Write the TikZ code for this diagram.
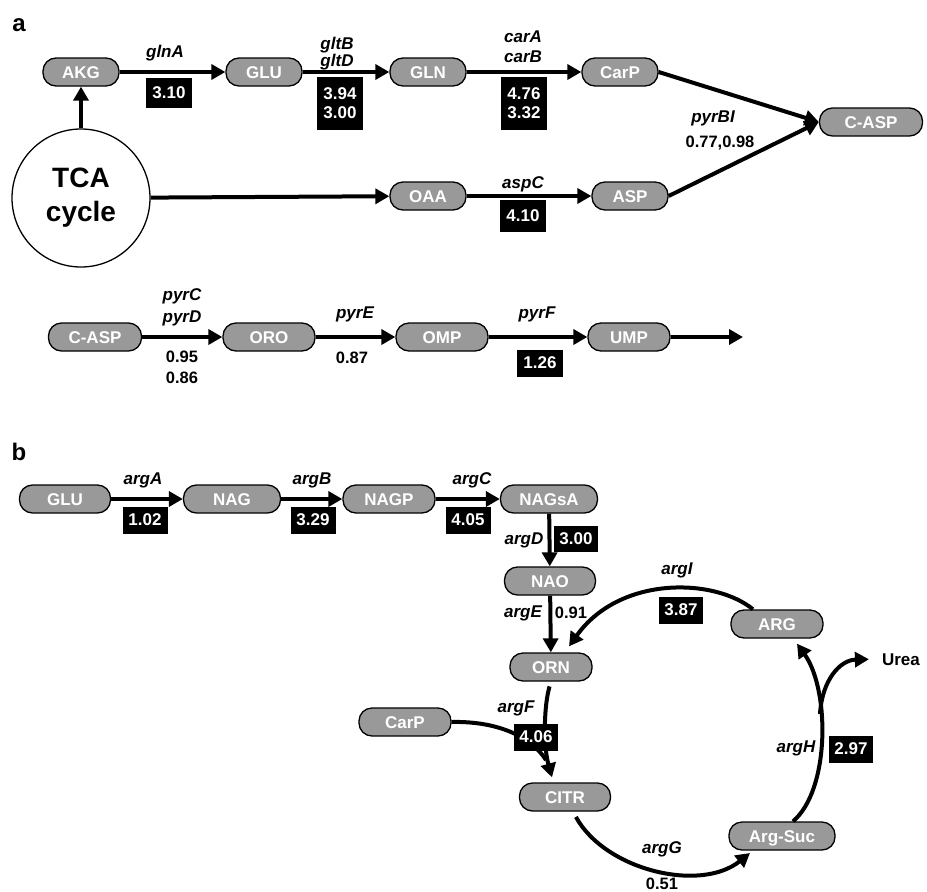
\documentclass[tikz,border=0pt]{standalone}
\usepackage{fontspec}
\setmainfont{Liberation Sans}
\usetikzlibrary{arrows.meta}
\definecolor{molgray}{RGB}{153,153,153}
\begin{document}
\begin{tikzpicture}[x=1pt,y=-1pt,
 mol/.style={draw=black, line width=1.3pt, fill=molgray, rounded corners=13pt, minimum height=28pt, text=white, font=\fontsize{17}{19}\selectfont\bfseries, text height=12.2pt, text depth=0pt, inner sep=0pt},
 numbox/.style={fill=black, text=white, font=\fontsize{17}{19}\selectfont\bfseries, inner sep=0pt, minimum width=45pt, minimum height=27pt, align=center},
 gene/.style={font=\fontsize{17}{19}\selectfont\bfseries\itshape, anchor=base, inner sep=0pt},
 num/.style={font=\fontsize{16.5}{19}\selectfont\bfseries, anchor=base, inner sep=0pt},
 panel/.style={font=\fontsize{24}{28}\selectfont\bfseries, inner sep=0pt},
 arr/.style={line width=4pt, -{Triangle[length=14pt,width=15pt]}},
 link/.style={line width=4pt},
]
\useasboundingbox (0,0) rectangle (927,892);
\node[panel] (lbla) at (19,25) {a};
\node[panel] (lblb) at (19,452) {b};

% ---------- part a, upper ----------
\node[mol, minimum width=76pt] (AKG) at (81,72) {AKG};
\node[mol, minimum width=76pt] (GLUa) at (264,72) {GLU};
\node[mol, minimum width=76pt] (GLN) at (428,72) {GLN};
\node[mol, minimum width=76pt] (CarPa) at (620,72) {CarP};
\node[mol, minimum width=103pt] (CASPa) at (871,122) {C-ASP};
\node[mol, minimum width=76pt] (OAA) at (428,196) {OAA};
\node[mol, minimum width=76pt] (ASP) at (630,196) {ASP};
\node[draw, circle, line width=1.3pt, minimum size=138pt, inner sep=0pt, align=center,
      font=\fontsize{28}{34}\selectfont\bfseries] (TCA) at (81,198) {TCA\\cycle};

\draw[arr] (TCA) -- (AKG);
\draw[arr] (AKG) -- (GLUa);
\draw[arr] (GLUa) -- (GLN);
\draw[arr] (GLN) -- (CarPa);
\draw[arr] (CarPa.east) -- (CASPa.west);
\draw[arr] (TCA) -- (OAA);
\draw[arr] (OAA) -- (ASP);
\draw[arr] (ASP.east) -- (CASPa.west);

% ---------- part a, lower ----------
\node[mol, minimum width=93pt] (CASPb) at (95,337) {C-ASP};
\node[mol, minimum width=92pt] (ORO) at (269,337) {ORO};
\node[mol, minimum width=92pt] (OMP) at (442,337) {OMP};
\node[mol, minimum width=82pt] (UMP) at (629,337) {UMP};
\coordinate (pyrEnd) at (743,337);

\draw[arr] (CASPb) -- (ORO);
\draw[arr] (ORO) -- (OMP);
\draw[arr] (OMP) -- (UMP);
\draw[arr] (UMP) -- (pyrEnd);

% ---------- part b ----------
\node[mol, minimum width=91pt] (GLUb) at (65,499) {GLU};
\node[mol, minimum width=97pt] (NAG) at (232,499) {NAG};
\node[mol, minimum width=92pt] (NAGP) at (389,499) {NAGP};
\node[mol, minimum width=97pt] (NAGsA) at (549,499) {NAGsA};
\node[mol, minimum width=91pt] (NAO) at (550,581) {NAO};
\node[mol, minimum width=82pt] (ORN) at (551,667) {ORN};
\node[mol, minimum width=92pt] (ARG) at (777,624) {ARG};
\node[mol, minimum width=92pt] (CarPb) at (405,722) {CarP};
\node[mol, minimum width=91pt] (CITR) at (565,797) {CITR};
\node[mol, minimum width=106pt] (ArgSuc) at (782,836) {Arg-Suc};
\node[font=\fontsize{17}{19}\selectfont\bfseries, anchor=base, inner sep=0pt] (Urea) at (901,665) {Urea};
\coordinate (merge) at (546,760);
\coordinate (br) at (820,714);

\draw[arr] (GLUb) -- (NAG);
\draw[arr] (NAG) -- (NAGP);
\draw[arr] (NAGP) -- (NAGsA);
\draw[arr] (NAGsA) -- (NAO);
\draw[arr] (NAO) -- (ORN);
\draw[arr] ([shift={(-24,0)}]ARG.north) .. controls (715,578) and (620,575) .. ([shift={(18,-6)}]ORN.north);
\draw[link] (CarPb.east) .. controls (495,721) and (530,735) .. (merge);
\draw[arr, shorten <=5pt] (ORN.south) .. controls (544,705) and (543,745) .. ([shift={(-13,-5)}]CITR.north);
\draw[arr, shorten <=6pt] ([shift={(8,0)}]CITR.south) .. controls (605,870) and (700,893) .. ([shift={(-32,17)}]ArgSuc.center);
\draw[arr] ([shift={(11,0)}]ArgSuc.north) .. controls (830,790) and (830,690) .. ([shift={(20,5)}]ARG.south);
\draw[arr] (br) .. controls (822,680) and (840,660) .. ([shift={(-13,0)}]Urea.west);

% ---------- labels, part a ----------
\node[gene] (gglnA) at (165,57) {glnA};
\node[gene] (ggltB) at (337,49) {gltB};
\node[gene] (ggltD) at (337,66) {gltD};
\node[gene] (gcarA) at (523,42) {carA};
\node[gene] (gcarB) at (523,62) {carB};
\node[gene] (gpyrBI) at (713,122) {pyrBI};
\node[num] (npyrBI) at (720,147) {0.77,0.98};
\node[gene] (gaspC) at (523,188) {aspC};
\node[numbox, minimum width=46pt, minimum height=30pt] (b310) at (169,93) {3.10};
\node[numbox, minimum width=46pt, minimum height=53pt] (b394) at (340,103) {3.94\\3.00};
\node[numbox, minimum width=46pt, minimum height=53pt] (b476) at (524,103) {4.76\\3.32};
\node[numbox, minimum width=46pt, minimum height=32pt] (b410) at (523,216) {4.10};

\node[gene] (gpyrC) at (182,300) {pyrC};
\node[gene] (gpyrD) at (182,322) {pyrD};
\node[num] (n095) at (182,362) {0.95};
\node[num] (n086) at (182,383) {0.86};
\node[gene] (gpyrE) at (355,318) {pyrE};
\node[num] (n087) at (352,363) {0.87};
\node[gene] (gpyrF) at (537,318) {pyrF};
\node[numbox, minimum width=46pt] (b126) at (540,363) {1.26};

% ---------- labels, part b ----------
\node[gene] (gargA) at (143,484) {argA};
\node[gene] (gargB) at (312,484) {argB};
\node[gene] (gargC) at (472,484) {argC};
\node[numbox] (b102) at (145,520) {1.02};
\node[numbox] (b329) at (313,520) {3.29};
\node[numbox] (b405) at (468,520) {4.05};
\node[gene] (gargD) at (524,544) {argD};
\node[numbox, minimum width=44pt, minimum height=26pt] (b300) at (576,539) {3.00};
\node[gene] (gargE) at (523,617) {argE};
\node[num] (n091) at (571,618) {0.91};
\node[gene] (gargI) at (677,574) {argI};
\node[numbox, minimum width=44pt] (b387) at (681,610) {3.87};
\node[gene] (gargF) at (516,712) {argF};
\node[numbox, minimum width=44pt] (b406) at (536,737) {4.06};
\node[gene] (gargG) at (662,853) {argG};
\node[num] (n051) at (662,889) {0.51};
\node[gene] (gargH) at (796,752) {argH};
\node[numbox, minimum width=44pt] (b297) at (851,749) {2.97};
\end{tikzpicture}
\end{document}
